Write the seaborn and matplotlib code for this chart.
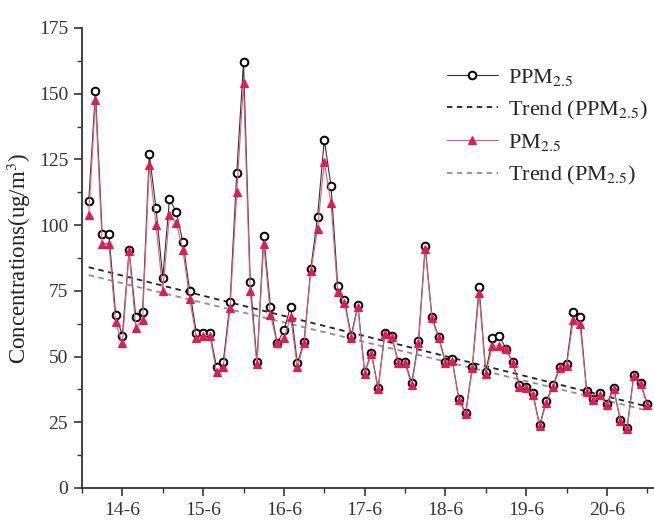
import numpy as np
import pandas as pd
import matplotlib
matplotlib.use("Agg")
import matplotlib.pyplot as plt
import seaborn as sns

# time axis: hours relative to 14-6 00:00, sampled every 2 h starting 13-6 14:00
hours = np.arange(-10, 158, 2)

ppm25 = [109, 151, 96.5, 96.5, 66, 58, 90.5, 65, 67, 127, 106.5, 80, 110, 105, 93.5, 75,
         59, 59, 59, 46, 48, 70.7, 120, 162, 78.5, 48, 96, 69, 55, 60, 69, 47.5,
         55.5, 83.5, 103, 132.5, 115, 77, 71.5, 58, 69.5, 44, 51.5, 38, 59, 58, 48, 48,
         40, 56, 92, 65, 57.5, 48, 49, 34, 28.5, 46, 76.5, 44, 57, 58, 53, 48,
         39, 38.5, 36, 24, 33, 39, 46, 47, 67, 65, 37, 34, 36, 32, 38, 26,
         23, 43, 40, 32]
pm25 = [104, 147.5, 93, 93, 63, 55, 90, 61, 64, 123, 100, 75, 104, 101, 90.5, 72,
        57, 58, 58, 44, 46, 68.5, 112.5, 154, 75, 47, 93, 66, 55, 57, 65, 46,
        55, 82.5, 98.5, 124, 108.5, 74.5, 70.5, 57, 69, 43.5, 51, 37.5, 58.5, 57.5, 47.5, 47.5,
        39, 55, 91, 64.5, 57, 47.5, 48.5, 33.5, 28, 45.5, 74, 43.5, 54, 54, 53, 47.5,
        38.5, 38, 35.5, 23.5, 32.5, 38.5, 45.5, 46.5, 64, 62.5, 36.5, 33.5, 35.5, 31.5, 37.5, 25.5,
        22.5, 42.5, 39.5, 31.5]

# linear trend lines (value at first and last sample)
trend_hours = [-10, 156]
trend_ppm = [84, 31]
trend_pm = [81, 29.5]

day_ticks = [0, 24, 48, 72, 96, 120, 144]
day_labels = ["14-6", "15-6", "16-6", "17-6", "18-6", "19-6", "20-6"]
y_ticks = [0, 25, 50, 75, 100, 125, 150, 175]

df = pd.DataFrame({"hours": hours, "PPM": ppm25, "PM": pm25})
tr = pd.DataFrame({"hours": trend_hours, "PPM": trend_ppm, "PM": trend_pm})

sns.set_style("ticks")
plt.rcParams["font.family"] = ["Liberation Serif", "DejaVu Serif"]
plt.rcParams["mathtext.fontset"] = "stix"

fig = plt.figure(figsize=(6.54, 5.21), dpi=100)
ax = fig.add_axes([82 / 654, 33 / 521, 1 - 82 / 654, 460 / 521])

red = "#e8194f"
dash = (0, (3, 2.5))
sns.lineplot(data=df, x="hours", y="PPM", ax=ax, color="#333333", lw=0.8,
             marker="o", markersize=5.5, markerfacecolor="white",
             markeredgecolor="black", markeredgewidth=1.4, label="PPM$_{2.5}$", zorder=3)
sns.lineplot(data=tr, x="hours", y="PPM", ax=ax, color="#222222", lw=1.3,
             ls=dash, label="Trend (PPM$_{2.5}$)", zorder=2)
sns.lineplot(data=df, x="hours", y="PM", ax=ax, color="#d9607a", lw=0.8,
             marker="^", markersize=5.5, markerfacecolor=red,
             markeredgecolor=red, markeredgewidth=0.8, label="PM$_{2.5}$", zorder=4)
sns.lineplot(data=tr, x="hours", y="PM", ax=ax, color="#8a8f99", lw=1.3,
             ls=dash, label="Trend (PM$_{2.5}$)", zorder=2)

ax.set_xlim(-12, 158)
ax.set_ylim(0, 175)
ax.set_xticks(day_ticks)
ax.set_xticklabels(day_labels)
ax.set_xticks([t + 12 for t in [-24] + day_ticks], minor=True)
ax.set_yticks(y_ticks)
ax.set_yticks([v + 12.5 for v in y_ticks[:-1]], minor=True)
ax.tick_params(axis="both", which="major", labelsize=14, length=6, width=1.2,
               direction="out", colors="#333333", pad=4)
ax.tick_params(axis="both", which="minor", length=3.5, width=1.0, direction="out",
               colors="#333333")
ax.set_xlabel("")
ax.set_ylabel("Concentrations(ug/m$^3$)", fontsize=16.5, color="#222222", labelpad=4)
sns.despine(ax=ax)
for s in ("left", "bottom"):
    ax.spines[s].set_linewidth(1.3)
    ax.spines[s].set_color("#333333")

handles, labels = ax.get_legend_handles_labels()
ax.legend(handles, labels, loc="upper left", bbox_to_anchor=(438 / 654, 1 - 58 / 521),
          bbox_transform=fig.transFigure, frameon=False, fontsize=16,
          handlelength=2.3, labelspacing=0.48, handletextpad=0.45, borderaxespad=0)

fig.savefig("out.png", dpi=100)
